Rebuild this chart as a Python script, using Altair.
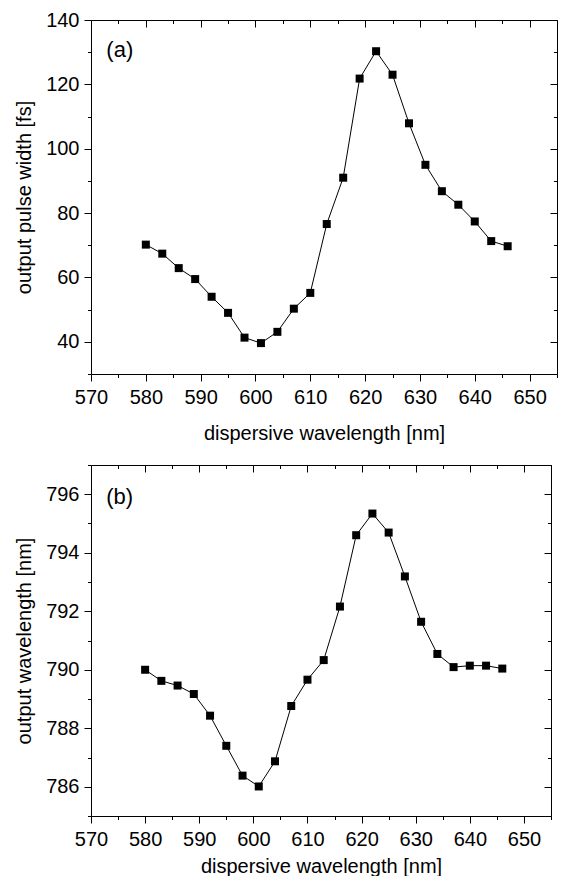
import altair as alt
import pandas as pd

# ---- data ----
disp_wl = [580, 583, 586, 589, 592, 595, 598, 601, 604, 607, 610, 613,
           616, 619, 622, 625, 628, 631, 634, 637, 640, 643, 646]
pulse_width = [70.2, 67.4, 62.9, 59.5, 54.0, 49.0, 41.3, 39.6, 43.1, 50.3, 55.2, 76.6,
               91.0, 121.8, 130.3, 123.0, 107.9, 95.0, 86.8, 82.6, 77.4, 71.3, 69.7]
out_wl = [790.00, 789.62, 789.46, 789.17, 788.43, 787.40, 786.38, 786.01, 786.87, 788.76,
          789.66, 790.33, 792.16, 794.60, 795.34, 794.69, 793.19, 791.64, 790.54, 790.09,
          790.14, 790.14, 790.04]

x_major = [570, 580, 590, 600, 610, 620, 630, 640, 650]
x_minor = [575, 585, 595, 605, 615, 625, 635, 645, 655]
ya_major = [40, 60, 80, 100, 120, 140]
ya_minor = [30, 50, 70, 90, 110, 130]
yb_major = [786, 788, 790, 792, 794, 796]
yb_minor = [785, 787, 789, 791, 793, 795, 797]

panel_labels = ["(a)", "(b)"]
label_x = [572.8, 572.8]
label_y = [130.7, 795.9]

FONT = "Liberation Sans"
MAJ = 7
MIN = 3.5


def panel(yvals, ytitle, ydom, ymaj, ymin, lab, lx, ly, w, h, lpad, tpad, shift):
    df = pd.DataFrame({"x": disp_wl, "y": yvals})
    xs = alt.Scale(domain=[570, 655], nice=False, zero=False)
    ys = alt.Scale(domain=ydom, nice=False, zero=False)

    base = alt.Chart(df)
    common = dict(labelFlush=False, labelOverlap=False, grid=False, minExtent=0)

    line = base.mark_line(color="black", strokeWidth=1).encode(
        x=alt.X("x:Q", scale=xs, title="dispersive wavelength [nm]",
                axis=alt.Axis(orient="bottom", values=x_major, tickSize=MAJ,
                              labelPadding=lpad, titlePadding=tpad, **common)),
        y=alt.Y("y:Q", scale=ys, title=ytitle,
                axis=alt.Axis(orient="left", values=ymaj, tickSize=MAJ,
                              labelPadding=5, titlePadding=11, **common)),
    )
    pts = base.mark_point(shape="square", filled=True, color="black", size=64, opacity=1).encode(
        x=alt.X("x:Q", scale=xs, title=None,
                axis=alt.Axis(orient="top", values=x_major, tickSize=MAJ, offset=-MAJ,
                              labels=False, domain=False, maxExtent=MAJ, **common)),
        y=alt.Y("y:Q", scale=ys, title=None,
                axis=alt.Axis(orient="right", values=ymaj, tickSize=MAJ, offset=-MAJ,
                              labels=False, domain=False, maxExtent=MAJ, **common)),
    )
    minor_y_axis = dict(orient="left", values=ymin, tickSize=MIN, labels=False,
                        domain=False, **common)
    minor_y_title = None
    if shift:
        minor_y_title = "."
        minor_y_axis.update(titleOpacity=0, titleAngle=0, titleAlign="left",
                            titleBaseline="top", titleFontSize=10, titleX=-shift, titleY=0)
    minor_bl = base.mark_point(opacity=0).encode(
        x=alt.X("x:Q", scale=xs, title=None,
                axis=alt.Axis(orient="bottom", values=x_minor, tickSize=MIN,
                              labels=False, domain=False, **common)),
        y=alt.Y("y:Q", scale=ys, title=minor_y_title, axis=alt.Axis(**minor_y_axis)),
    )
    minor_tr = base.mark_point(opacity=0).encode(
        x=alt.X("x:Q", scale=xs, title=None,
                axis=alt.Axis(orient="top", values=x_minor, tickSize=MIN, offset=-MIN,
                              labels=False, domain=False, maxExtent=MIN, **common)),
        y=alt.Y("y:Q", scale=ys, title=None,
                axis=alt.Axis(orient="right", values=ymin, tickSize=MIN, offset=-MIN,
                              labels=False, domain=False, maxExtent=MIN, **common)),
    )
    frame_tr = base.mark_point(opacity=0).encode(
        x=alt.X("x:Q", scale=xs, title=None,
                axis=alt.Axis(orient="top", values=[], tickSize=0, labels=False,
                              domain=True, maxExtent=0, **common)),
        y=alt.Y("y:Q", scale=ys, title=None,
                axis=alt.Axis(orient="right", values=[], tickSize=0, labels=False,
                              domain=True, maxExtent=0, **common)),
    )
    tdf = pd.DataFrame({"t": [lab], "x": [lx], "y": [ly]})
    txt = alt.Chart(tdf).mark_text(align="left", baseline="middle", fontSize=22,
                                    font=FONT, color="black").encode(
        x=alt.X("x:Q", scale=xs, axis=None),
        y=alt.Y("y:Q", scale=ys, axis=None),
        text="t:N",
    )
    return alt.layer(line, pts, minor_bl, minor_tr, frame_tr, txt).resolve_axis(
        x="independent", y="independent"
    ).properties(width=w, height=h)


top = panel(pulse_width, "output pulse width [fs]", [30, 140], ya_major, ya_minor,
            panel_labels[0], label_x[0], label_y[0], 466, 354, 6, 16, 0)
bottom = panel(out_wl, "output wavelength [nm]", [785, 797], yb_major, yb_minor,
               panel_labels[1], label_x[1], label_y[1], 460, 351, 6, 7, 83)

chart = alt.vconcat(top, bottom, spacing=21).properties(
    padding={"left": 0, "top": 2, "right": 0, "bottom": 0}
).configure_view(stroke=None).configure_axis(
    domainColor="black", tickColor="black", labelColor="black", titleColor="black",
    labelFont=FONT, titleFont=FONT, labelFontSize=20, titleFontSize=20,
    titleFontWeight="normal", domainWidth=1, tickWidth=1,
)

chart.save("out.html", embed_options={"renderer": "svg", "actions": False})
